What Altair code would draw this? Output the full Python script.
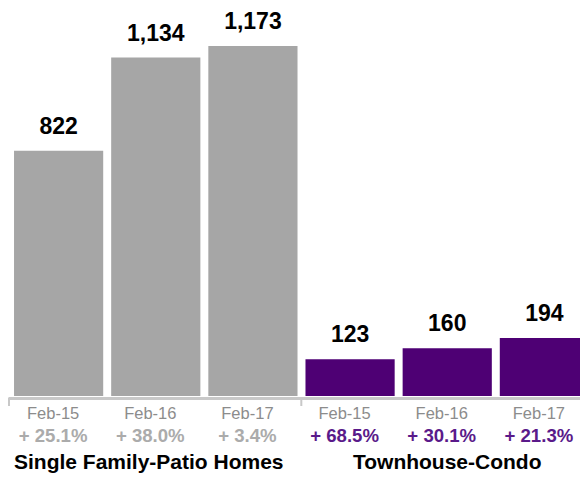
import altair as alt
import pandas as pd

groups = ["Single Family-Patio Homes"] * 3 + ["Townhouse-Condo"] * 3
periods = ["Feb-15", "Feb-16", "Feb-17"] * 2
values = [822, 1134, 1173, 123, 160, 194]
changes = ["+ 25.1%", "+ 38.0%", "+ 3.4%", "+ 68.5%", "+ 30.1%", "+ 21.3%"]
group_names = ["Single Family-Patio Homes", "Townhouse-Condo"]

bar_colors = ["#a6a6a6", "#4e0074"]
pct_colors = ["#ababab", "#5a1a8a"]

df = pd.DataFrame({
    "group": groups,
    "period": periods,
    "value": values,
    "change": changes,
})
df["key"] = df["group"] + " " + df["period"]
order = list(df["key"])

FONT = "Liberation Sans"

x = alt.X("key:N", sort=order,
          scale=alt.Scale(range=[0, 587], paddingInner=0.082, paddingOuter=0.062),
          axis=alt.Axis(labels=False, ticks=False, title=None, domainColor="#c8c8c8",
                        domainWidth=3, offset=2, grid=False))
xs = alt.X("key:N", sort=order)

base = alt.Chart(df)

bars = base.mark_bar().encode(
    x=x,
    y=alt.Y("value:Q", scale=alt.Scale(domain=[0, 1300], nice=False), axis=None),
    color=alt.Color("group:N", scale=alt.Scale(domain=group_names, range=bar_colors), legend=None),
)

value_labels = base.mark_text(font=FONT, fontSize=23, fontWeight="bold", color="#000000",
                              baseline="alphabetic", dy=-17).encode(
    x=xs,
    y=alt.Y("value:Q"),
    text=alt.Text("value:Q", format=","),
)

date_labels = base.mark_text(font=FONT, fontSize=16.5, color="#8c8c8c", baseline="alphabetic",
                             dx=-5.5).encode(
    x=xs,
    y=alt.value(411),
    text="period:N",
)

pct_labels = base.mark_text(font=FONT, fontSize=18.6, fontWeight="bold", baseline="alphabetic",
                            dx=-5.5).encode(
    x=xs,
    y=alt.value(434),
    text="change:N",
    color=alt.Color("group:N", scale=alt.Scale(domain=group_names, range=pct_colors), legend=None),
)

group1_label = base.transform_filter(alt.datum.key == order[1]).mark_text(
    font=FONT, fontSize=21, fontWeight="bold", color="#000000", baseline="alphabetic", dx=-7).encode(
    x=xs,
    y=alt.value(461),
    text="group:N",
)

group2_label = base.transform_filter(alt.datum.key == order[4]).mark_text(
    font=FONT, fontSize=21, fontWeight="bold", color="#000000", baseline="alphabetic").encode(
    x=xs,
    y=alt.value(461),
    text="group:N",
)

tick_left = base.transform_filter(alt.datum.key == order[0]).mark_rule(
    color="#c8c8c8", strokeWidth=2, xOffset=-5).encode(
    x=alt.X("key:N", sort=order, bandPosition=0),
    y=alt.value(390),
    y2=alt.value(398),
)

tick_mid = base.transform_filter(alt.datum.key == order[2]).mark_rule(
    color="#c8c8c8", strokeWidth=2, xOffset=3.8).encode(
    x=alt.X("key:N", sort=order, bandPosition=1),
    y=alt.value(390),
    y2=alt.value(398),
)

chart = alt.layer(bars, value_labels, date_labels, pct_labels, group1_label, group2_label,
                  tick_left, tick_mid).resolve_scale(
    color="independent"
).properties(
    width=572,
    height=388,
    autosize=alt.AutoSizeParams(type="none"),
    padding={"left": 0, "top": 0, "right": 0, "bottom": 79},
).configure_view(stroke=None)

chart.save("out.html", embed_options={"renderer": "svg", "actions": False})
